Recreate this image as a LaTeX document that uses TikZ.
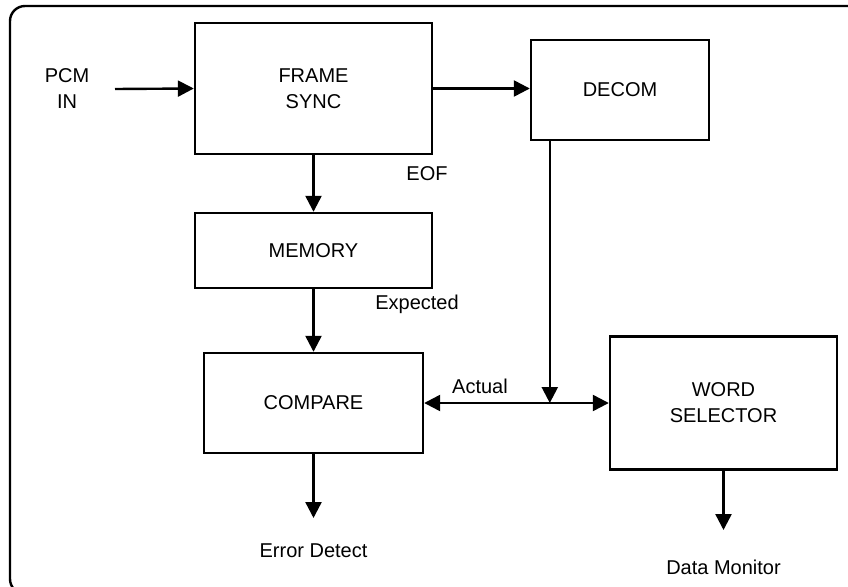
\documentclass[tikz,border=0pt]{standalone}
\usepackage{fontspec}
\setmainfont{Liberation Sans}
\usetikzlibrary{arrows.meta,positioning}

\begin{document}
\begin{tikzpicture}[x=1pt, y=-1pt, font=\fontsize{20}{26}\selectfont, line width=2.4pt]
        \tikzset{
            blk/.style={draw, align=center, inner sep=0pt},
            lbl/.style={align=center, inner sep=2pt},
            arr/.style={-{Triangle[length=16pt, width=16pt]}},
            darr/.style={{Triangle[length=16pt, width=16pt]}-{Triangle[length=16pt, width=16pt]}}
        }
        \useasboundingbox (0,0) rectangle (848,586);
        \draw[rounded corners=15pt] (10,6) rectangle (870,594);
        % main column
        \node[blk, minimum width=237pt, minimum height=131pt] (fs) at (313.5,88.5) {FRAME\\SYNC};
        \node[blk, minimum width=237pt, minimum height=75pt, below=56.6pt of fs] (mem) {MEMORY};
        \node[blk, minimum width=219pt, minimum height=100pt, below=62.6pt of mem] (cmp) {COMPARE};
        % right side
        \node[blk, minimum width=178pt, minimum height=100pt, right=96.6pt of fs.east, anchor=west, yshift=-1.5pt] (dec) {DECOM};
        \node[blk, minimum width=227pt, minimum height=133pt, right=184.6pt of cmp.east, anchor=west] (ws) {WORD\\SELECTOR};
        % labels
        \node[lbl] (pcm) at (67,89) {PCM\\IN};
        \coordinate (pcmin) at (115,89);
        \node[lbl] (eof) at (427,174) {EOF};
        \node[lbl] (exp) at (417,304) {Expected};
        \node[lbl] (act) at (480,386) {Actual};
        \node[lbl] (err) at (313.5,551) {Error Detect};
        \node[lbl] (mon) at (723.5,567) {Data Monitor};
        \coordinate (dectop) at ([xshift=20pt]dec.south west);
        \coordinate (j) at (dectop |- cmp.east);
        \draw[arr] (pcmin) -- (fs.west);
        \draw[arr] (fs.east) -- (fs.east -| dec.west);
        \draw[arr] (fs) -- (mem);
        \draw[arr] (mem) -- (cmp);
        \draw[arr, shorten >=33pt] (cmp.south) -- (err.center);
        \draw[arr, shorten >=37pt] (ws.south) -- (ws.south |- mon.center);
        \draw[darr] (cmp.east) -- (cmp.east -| ws.west);
        \draw[arr] (dectop) -- (j);
    \end{tikzpicture}
\end{document}
